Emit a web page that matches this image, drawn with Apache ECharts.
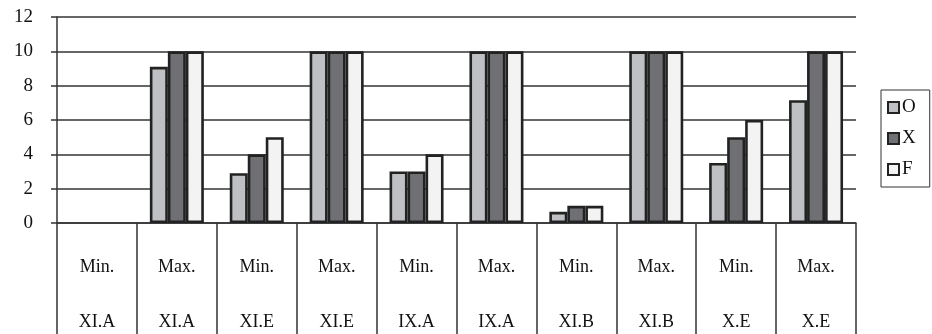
<!DOCTYPE html>
<html>
<head>
<meta charset="utf-8">
<script src="https://cdn.jsdelivr.net/npm/echarts@6/dist/echarts.min.js"></script>
<style>
html,body{margin:0;padding:0;background:#fff;}
#chart{width:932px;height:334px;}
</style>
</head>
<body>
<div id="chart"></div>
<script>
// Data
var kinds = ['Min.', 'Max.', 'Min.', 'Max.', 'Min.', 'Max.', 'Min.', 'Max.', 'Min.', 'Max.'];
var classes = ['XI.A', 'XI.A', 'XI.E', 'XI.E', 'IX.A', 'IX.A', 'XI.B', 'XI.B', 'X.E', 'X.E'];
var seriesNames = ['O', 'X', 'F'];
var valuesO = [0, 9.1, 2.9, 10, 3, 10, 0.65, 10, 3.5, 7.15];
var valuesX = [0, 10, 4, 10, 3, 10, 1, 10, 5, 10];
var valuesF = [0, 10, 5, 10, 4, 10, 1, 10, 6, 10];
var yTicks = [0, 2, 4, 6, 8, 10, 12];

var categories = kinds.map(function (k, i) { return k + '\n' + classes[i]; });
var fills = ['#bfc0c4', '#6f7074', '#f3f3f3'];
var seriesData = [valuesO, valuesX, valuesF];
var FONT = '"Liberation Serif", "DejaVu Serif", serif';

var chart = echarts.init(document.getElementById('chart'), null, {renderer: 'canvas'});
chart.setOption({
  animation: false,
  backgroundColor: '#ffffff',
  grid: {left: 57, right: 76, top: 17, bottom: 111, containLabel: false, outerBoundsMode: 'none'},
  legend: {
    orient: 'vertical',
    left: 881,
    top: 90,
    padding: [8, 14, 8, 6],
    borderColor: '#333',
    borderWidth: 1,
    itemWidth: 11,
    itemHeight: 11,
    itemGap: 12,
    icon: 'rect',
    textStyle: {fontFamily: FONT, fontSize: 19, color: '#111', padding: [0, 0, 0, -2]},
    data: seriesNames
  },
  xAxis: {
    type: 'category',
    data: categories,
    boundaryGap: true,
    axisLine: {show: true, lineStyle: {color: '#333', width: 1.5}},
    axisTick: {show: true, interval: 0, length: 112, lineStyle: {color: '#333', width: 1.5}},
    axisLabel: {
      interval: 0,
      margin: 17,
      fontFamily: FONT,
      fontSize: 18,
      color: '#111',
      lineHeight: 55
    }
  },
  yAxis: {
    type: 'value',
    min: yTicks[0],
    max: yTicks[yTicks.length - 1],
    interval: 2,
    axisLine: {show: true, lineStyle: {color: '#333', width: 1.5}},
    axisTick: {show: true, length: 6, lineStyle: {color: '#333', width: 1.5}},
    splitLine: {show: true, lineStyle: {color: '#333', width: 1.5}},
    axisLabel: {margin: 24, fontFamily: FONT, fontSize: 19, color: '#111'}
  },
  series: seriesNames.map(function (n, i) {
    return {
      name: n,
      type: 'bar',
      data: seriesData[i].map(function (v) {
        return v === 0 ? {value: v, itemStyle: {borderWidth: 0}} : v;
      }),
      barWidth: 18,
      barGap: '0%',
      itemStyle: {color: fills[i], borderColor: '#222', borderWidth: 2.6}
    };
  })
});
</script>
</body>
</html>
